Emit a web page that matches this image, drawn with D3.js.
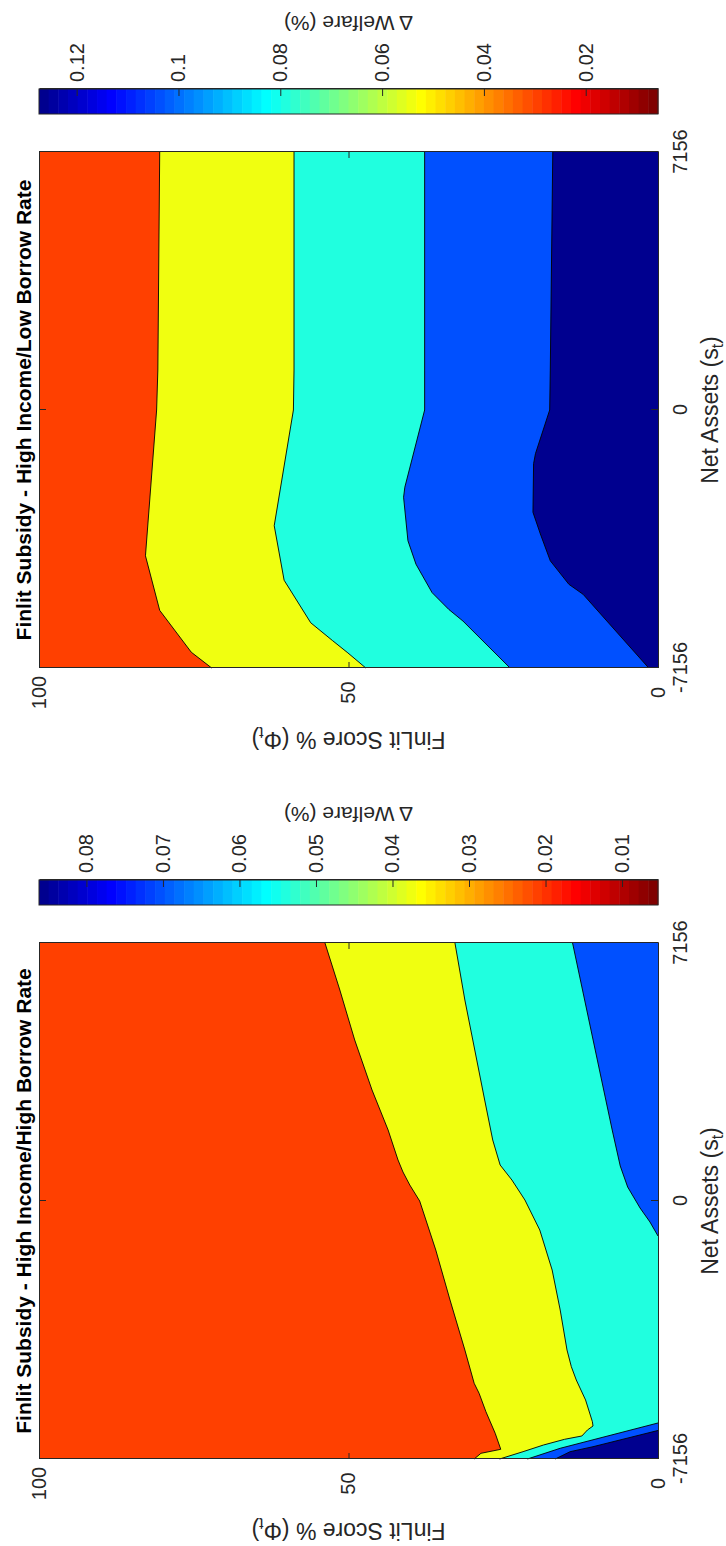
<!DOCTYPE html>
<html lang="en">
<head>
<meta charset="UTF-8">
<title>Finlit Subsidy - Welfare contours</title>
<script src="https://d3js.org/d3.v7.min.js"></script>
<style>
  body { margin: 0; background: #fff; }
  svg text { font-family: "Liberation Sans", Arial, sans-serif; fill: #262626; }
</style>
</head>
<body>
<div id="chart"></div>
<script>
// axis ticks
const naTicks = [-7156, 0, 7156];
const finlitTicks = [0, 50, 100];

// contour edges, [net assets, finlit %]
// High Income / Low Borrow Rate
const lbRedYellow = [[7156, 80.5], [1109, 80.8], [0, 81.0], [-4044, 82.8], [-5558, 80.5], [-6718, 75.4], [-7156, 72.1]];
const lbYellowCyan = [[7156, 58.8], [1109, 58.8], [0, 58.9], [-3209, 62.0], [-4721, 60.4], [-5902, 56.1], [-6393, 52.6], [-6737, 50.1], [-7156, 47.2]];
const lbCyanBlue = [[7156, 37.7], [1109, 37.7], [0, 37.7], [-2141, 40.9], [-2419, 41.1], [-3625, 40.4], [-4277, 39.1], [-5065, 36.5], [-5531, 33.8], [-5855, 31.5], [-7156, 23.9]];
const lbBlueNavy = [[7156, 17.0], [1109, 17.4], [0, 17.5], [-1212, 19.8], [-1489, 20.1], [-2837, 20.2], [-3439, 19.0], [-4183, 17.4], [-4834, 14.4], [-5112, 12.1], [-7156, 1.5]];
const lbWelfareRange = [0.0058, 0.1274];
const lbCbTicks = [0.02, 0.04, 0.06, 0.08, 0.1, 0.12];

// High Income / High Borrow Rate
const hbRedYellow = [[7156, 53.8], [5852, 51.4], [4466, 49.0], [3079, 46.2], [1969, 43.6], [1137, 42.0], [804, 41.2], [444, 40.1], [0, 38.5], [-1359, 35.9], [-2746, 33.6], [-4133, 31.2], [-5056, 29.7], [-5334, 28.9], [-5844, 27.8], [-6443, 26.3], [-6887, 25.4], [-6998, 28.6], [-7156, 29.7]];
const hbYellowCyan = [[7156, 32.8], [5575, 31.2], [4188, 29.6], [2801, 28.0], [1692, 26.7], [998, 25.5], [582, 23.6], [28, 21.5], [-804, 19.1], [-1914, 17.1], [-3023, 15.8], [-4133, 14.7], [-4596, 14.0], [-4965, 13.2], [-5519, 11.7], [-6121, 10.6], [-6241, 10.5], [-6352, 11.4], [-6518, 12.3], [-6610, 15.1], [-6768, 18.5], [-6953, 21.8], [-7156, 25.6]];
const hbCyanBlueTop = [[7156, 13.8], [3911, 9.8], [1969, 7.4], [971, 6.1], [388, 4.9], [-194, 2.9], [-582, 1.3], [-971, 0]];
const hbCyanBlueLow = [[-6157, 0], [-6859, 15.8], [-7156, 21.1]];
const hbBlueNavy = [[-6365, 0], [-6815, 10.5], [-6953, 14.2], [-7156, 16.6]];
const hbWelfareRange = [0.0053, 0.0862];
const hbCbTicks = [0.01, 0.02, 0.03, 0.04, 0.05, 0.06, 0.07, 0.08];

// fill colours of the contour levels (flipped jet)
const levelColors = ["#ff4000", "#f0ff10", "#20ffdf", "#0050ff", "#00008f"];

const W = 1546, H = 726;   // figure is drawn landscape then turned a quarter
const plotTop = 39, plotBottom = 658, pw = 516;
const fontFam = "Liberation Sans, Arial, sans-serif";

const panels = [
    { left: 878, cbLeft: 1432, title: "Finlit Subsidy - High Income/Low Borrow Rate",
      edges: [lbRedYellow, lbYellowCyan, lbCyanBlue, lbBlueNavy], levels: [1, 2, 3, 4],
      range: lbWelfareRange, cbTicks: lbCbTicks },
    { left: 87, cbLeft: 641, title: "Finlit Subsidy - High Income/High Borrow Rate",
      edges: [hbRedYellow, hbYellowCyan, hbCyanBlueTop, hbCyanBlueLow, hbBlueNavy], levels: [1, 2, 3, 3, 4],
      range: hbWelfareRange, cbTicks: hbCbTicks }
];

const svg = d3.select("#chart").append("svg")
    .attr("width", H)
    .attr("height", W);

const fig = svg.append("g")
    .attr("transform", `translate(0,${W}) rotate(-90)`);

function jet(t) {
    const c = v => Math.max(0, Math.min(1, v));
    return d3.rgb(255 * c(1.5 - Math.abs(4 * t - 3)),
                  255 * c(1.5 - Math.abs(4 * t - 2)),
                  255 * c(1.5 - Math.abs(4 * t - 1))).formatHex();
}

function styleAxis(sel) {
    sel.attr("font-size", 20).attr("font-family", fontFam);
    sel.selectAll("text").attr("fill", "#262626");
    sel.selectAll(".domain").attr("stroke-width", 1);
}

panels.forEach(function (p) {
    const x = d3.scaleLinear().domain([-7156, 7156]).range([p.left, p.left + pw]);
    const y = d3.scaleLinear().domain([0, 100]).range([plotBottom, plotTop]);
    const g = fig.append("g");

    g.append("rect")
        .attr("x", x(-7156)).attr("y", y(100))
        .attr("width", pw).attr("height", plotBottom - plotTop)
        .attr("fill", levelColors[0]);

    const line = d3.line().x(d => x(d[0])).y(d => y(d[1]));

    p.edges.forEach(function (e, i) {
        const poly = e.concat([[e[e.length - 1][0], 0], [e[0][0], 0]]);
        g.append("path")
            .attr("d", line(poly) + "Z")
            .attr("fill", levelColors[p.levels[i]]);
    });
    p.edges.forEach(function (e) {
        g.append("path")
            .attr("d", line(e))
            .attr("fill", "none")
            .attr("stroke", "#000")
            .attr("stroke-width", 0.9);
    });

    // axes, ticks inside like matlab
    const ax = g.append("g").attr("color", "#262626");
    ax.append("g").attr("transform", `translate(0,${plotBottom})`)
        .call(d3.axisBottom(x).tickValues(naTicks).tickSize(-7).tickSizeOuter(0).tickPadding(14.5)
            .tickFormat(d => String(d)))
        .call(styleAxis);
    ax.append("g").attr("transform", `translate(0,${plotTop})`)
        .call(d3.axisTop(x).tickValues(naTicks).tickSize(-7).tickSizeOuter(0).tickFormat(""))
        .call(styleAxis);
    ax.append("g").attr("transform", `translate(${p.left},0)`)
        .call(d3.axisLeft(y).tickValues(finlitTicks).tickSize(-6).tickSizeOuter(0).tickPadding(24.5))
        .call(styleAxis)
        .selectAll("text").attr("text-anchor", "middle");
    ax.append("g").attr("transform", `translate(${p.left + pw},0)`)
        .call(d3.axisRight(y).tickValues(finlitTicks).tickSize(-6).tickSizeOuter(0).tickFormat(""))
        .call(styleAxis);

    g.append("text")
        .attr("x", p.left + pw / 2).attr("y", 31)
        .attr("text-anchor", "middle")
        .attr("font-size", 21).attr("font-weight", "bold")
        .style("fill", "#000")
        .text(p.title);

    const xl = g.append("text")
        .attr("x", p.left + pw / 2).attr("y", 718)
        .attr("text-anchor", "middle")
        .attr("font-size", 23);
    xl.append("tspan").text("Net Assets (s");
    xl.append("tspan").attr("dy", 5).attr("font-size", 16).text("t");
    xl.append("tspan").attr("dy", -5).text(")");

    const ylab = g.append("text")
        .attr("transform", `translate(${p.left - 64},${(plotTop + plotBottom) / 2}) rotate(-90)`)
        .attr("text-anchor", "middle")
        .attr("font-size", 23);
    ylab.append("tspan").text("FinLit Score % (Φ");
    ylab.append("tspan").attr("dy", 5).attr("font-size", 16).text("t");
    ylab.append("tspan").attr("dy", -5).text(")");

    // colorbar
    const cb = d3.scaleLinear().domain(p.range).range([plotBottom, plotTop]);
    const n = 64, step = (p.range[1] - p.range[0]) / n;
    const bands = d3.range(n);
    g.append("g").selectAll("rect")
        .data(bands)
        .join("rect")
        .attr("x", p.cbLeft)
        .attr("y", k => cb(p.range[1] - k * step))
        .attr("width", 25)
        .attr("height", k => cb(p.range[1] - (k + 1) * step) - cb(p.range[1] - k * step) + 0.5)
        .attr("fill", k => jet((k + 1) / n));
    g.append("rect")
        .attr("x", p.cbLeft).attr("y", plotTop)
        .attr("width", 25).attr("height", plotBottom - plotTop)
        .attr("fill", "none").attr("stroke", "#262626");
    g.append("g").attr("color", "#262626")
        .attr("transform", `translate(${p.cbLeft + 25},0)`)
        .call(d3.axisRight(cb).tickValues(p.cbTicks).tickSize(-7).tickSizeOuter(0).tickPadding(7)
            .tickFormat(d3.format("~g")))
        .call(styleAxis);

    g.append("text")
        .attr("transform", `translate(${p.cbLeft + 98},${(plotTop + plotBottom) / 2}) rotate(-90)`)
        .attr("text-anchor", "middle")
        .attr("font-size", 21)
        .text("Δ Welfare (%)");
});
</script>
</body>
</html>
